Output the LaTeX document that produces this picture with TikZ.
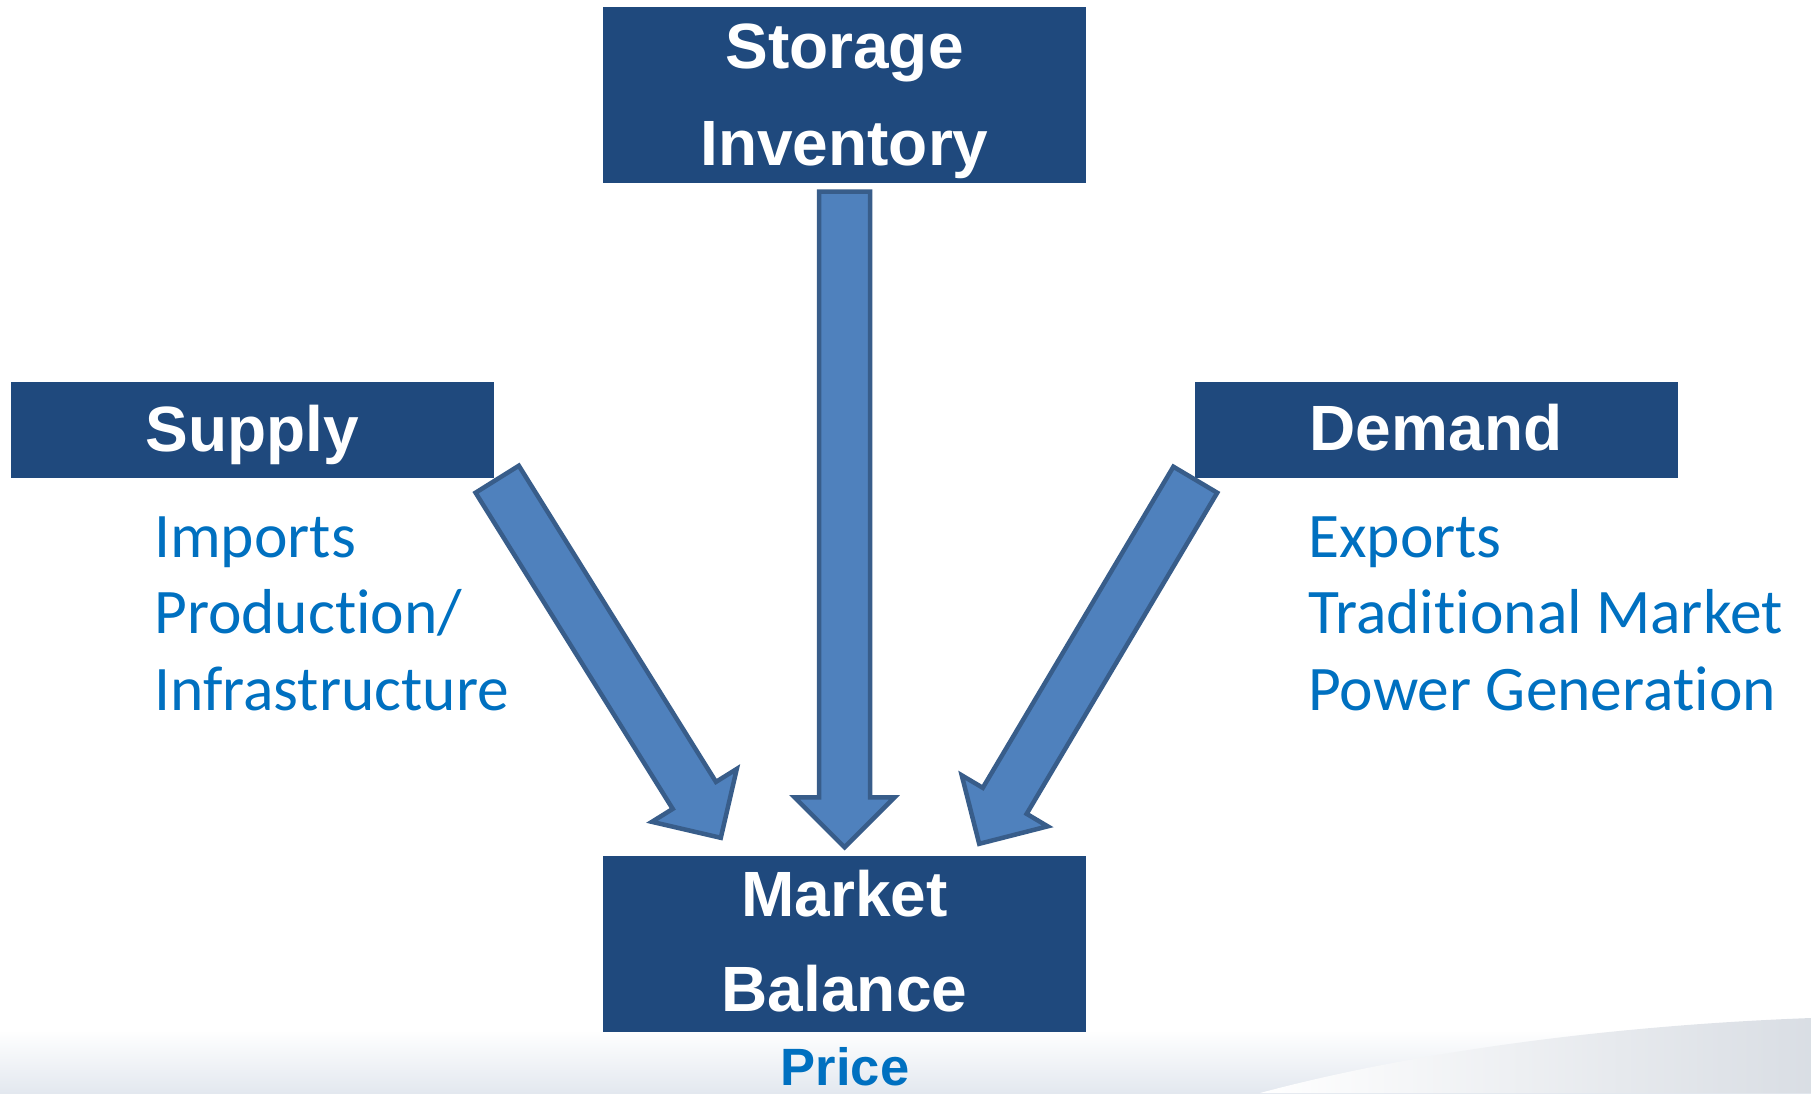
\documentclass[tikz,border=0pt]{standalone}
\usepackage{fontspec}
\setmainfont{Liberation Sans}
\newfontfamily\listfont{Carlito}[Ligatures={NoCommon}]
\usetikzlibrary{positioning,calc}

\definecolor{boxblue}{HTML}{1F497D}
\definecolor{flowfill}{HTML}{4F81BD}
\definecolor{flowline}{HTML}{385D8A}
\definecolor{itemblue}{HTML}{0070C0}
\definecolor{slidegray}{HTML}{E3E8EF}

\begin{document}
\begin{tikzpicture}[x=1pt,y=-1pt,
  box/.style={fill=boxblue,inner sep=0,minimum width=483pt},
  title/.style={anchor=base,inner sep=0,text=white,font=\fontsize{64}{76}\selectfont\bfseries},
  item/.style={anchor=base west,inner sep=0,text=itemblue,font=\listfont\fontsize{63.5}{76}\selectfont},
  flow/.style={fill=flowfill,draw=flowline,line width=4.5pt}]
\def\flowarrow#1#2{
  \coordinate (hb) at ($(#2)!50pt!(#1)$);
  \draw[flow] ($(#1)!25.5pt!-90:(#2)$) -- ($(hb)!25.5pt!-90:(#2)$) -- ($(hb)!50pt!-90:(#2)$) -- (#2)
    -- ($(hb)!50pt!90:(#2)$) -- ($(hb)!25.5pt!90:(#2)$) -- ($(#1)!25.5pt!90:(#2)$) -- cycle;
}

\useasboundingbox (0,0) rectangle (1811,1093);

% slide background
\shade[top color=white,bottom color=slidegray] (0,1030) rectangle (1811,1093);
\shade[left color=white,right color=slidegray!90!gray] (1260,1093) .. controls (1420,1050) and (1620,1025) .. (1811,1018) -- (1811,1093) -- cycle;

% boxes
\node[box,minimum height=176pt] (storage) at (844.5,95) {};
\node[box,minimum height=96pt] (supply) at (252.5,430) {};
\node[box,minimum height=96pt] (demand) at (1436,430) {};
\node[box,minimum height=176pt] (market) at (844.5,943.5) {};

\node[title] (storage1) at (844.5,68) {Storage};
\node[title] (storage2) at (844.5,165) {Inventory};
\node[title] (supplyT) at (252.5,451) {Supply};
\node[title] (demandT) at (1436,450) {Demand};
\node[title] (market1) at (844.5,916) {Market};
\node[title] (market2) at (844.5,1011.5) {Balance};
\node[title,text=itemblue,font=\fontsize{52.5}{60}\selectfont\bfseries] (price) at (845,1085) {Price};

\foreach \n/\y/\t in {imp/557/Imports,prod/633/{Production/},infra/710/Infrastructure}
  \node[item] (\n) at (154,\y) {\t};
\foreach \n/\y/\t in {exp/557/Exports,trad/633/Traditional Market,power/710/Power Generation}
  \node[item] (\n) at (1308,\y) {\t};

% arrows
\coordinate (invOut) at ($(storage.south)+(0,8.5)$);
\coordinate (invIn) at ($(market.north)+(0,-8)$);
\coordinate (supOut) at ($(supply.south east)+(3,1)$);
\coordinate (supIn) at ($(market.north west)+(118,-17.5)$);
\coordinate (demOut) at ($(demand.south west)+(1,1.5)$);
\coordinate (demIn) at ($(market.north east)+(-107,-11.5)$);

\flowarrow{invOut}{invIn}
\flowarrow{supOut}{supIn}
\flowarrow{demOut}{demIn}

\end{tikzpicture}
\end{document}
